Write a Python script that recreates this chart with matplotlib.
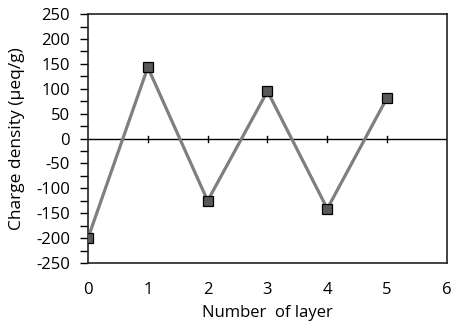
import matplotlib
matplotlib.use("Agg")
import matplotlib.pyplot as plt
from matplotlib.ticker import MultipleLocator

layers = [0, 1, 2, 3, 4, 5]
charge = [-200, 143, -125, 95, -141, 82]
x_ticks = [0, 1, 2, 3, 4, 5, 6]
y_ticks = list(range(-250, 251, 50))

plt.rcParams['font.family'] = ['Open Sans', 'DejaVu Sans']
plt.rcParams['axes.unicode_minus'] = False

fig = plt.figure(figsize=(4.59, 3.27), dpi=100)
ax = fig.add_axes([0.1917, 0.1957, 0.782, 0.7613])

ax.plot(layers, charge, color='#7f7f7f', lw=2.3, marker='s', ms=6.5,
        mfc='#595959', mec='black', mew=0.9, zorder=3)

ax.set_xlim(0, 6)
ax.set_ylim(-250, 250)
ax.set_xticks(x_ticks)
ax.set_yticks(y_ticks)
ax.yaxis.set_minor_locator(MultipleLocator(25))
ax.tick_params(axis='y', which='both', direction='out', length=6, width=1,
               labelsize=12, pad=7)
ax.tick_params(axis='x', which='both', length=0, labelsize=12, pad=14)

# horizontal axis at y = 0 with crossing ticks
ax.axhline(0, color='black', lw=1, zorder=2)
for xv in x_ticks[1:-1]:
    ax.plot([xv, xv], [-6, 6], color='black', lw=1, zorder=2)

for s in ax.spines.values():
    s.set_color('#222222')
    s.set_linewidth(1.2)

ax.set_xlabel('Number  of layer', fontsize=12, labelpad=5)
ax.set_ylabel('Charge density (µeq/g)', fontsize=12.5, labelpad=8)

fig.savefig('out.png', dpi=100)
